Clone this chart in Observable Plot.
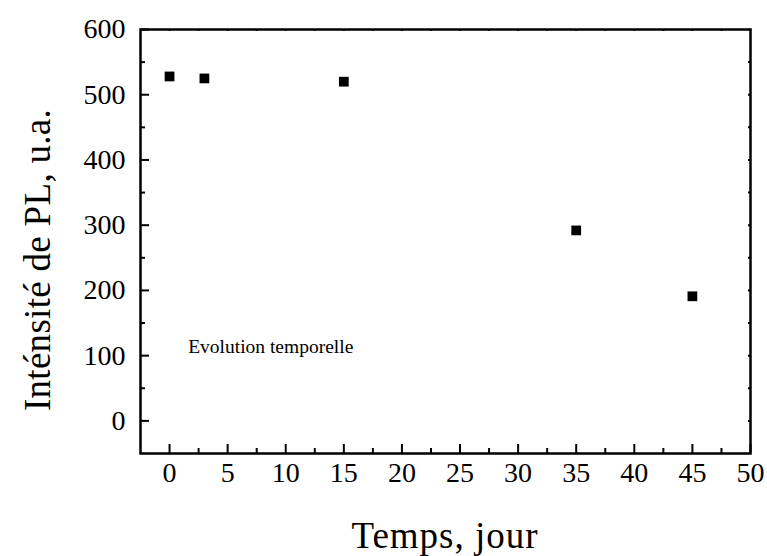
<!DOCTYPE html>
<html><head><meta charset="utf-8">
<script src="https://cdn.jsdelivr.net/npm/d3@7"></script>
<script src="https://cdn.jsdelivr.net/npm/@observablehq/plot@0.6"></script>
<style>body{margin:0;background:#fff}</style>
</head><body><div id="chart"></div>
<script>
const days = [0, 3, 15, 35, 45];
const intensity = [528, 525, 520, 292, 191];
const xTicks = [0, 5, 10, 15, 20, 25, 30, 35, 40, 45, 50];
const yTicks = [0, 100, 200, 300, 400, 500, 600];
const xMinor = [2.5, 7.5, 12.5, 17.5, 22.5, 27.5, 32.5, 37.5, 42.5, 47.5];
const yMinor = [50, 150, 250, 350, 450, 550];
const note = "Evolution temporelle";
const xLabel = "Temps, jour";
const yLabel = "Inténsité de PL, u.a.";

const data = days.map((d, i) => ({d, v: intensity[i]}));
const font = "'Liberation Serif', 'Times New Roman', serif";
const W = 767, H = 556, mL = 140, mR = 17, mT = 29, mB = 103;
const pw = W - mL - mR, ph = H - mT - mB;

const chart = Plot.plot({
  width: W, height: H,
  marginLeft: mL, marginRight: mR, marginTop: mT, marginBottom: mB,
  style: {fontFamily: font, color: "#000", background: "#fff"},
  x: {domain: [-2.5, 50]},
  y: {domain: [-50, 600]},
  marks: [
    Plot.axisX({ticks: xTicks, tickSize: 0, tickPadding: 9, tickFormat: d => String(d), label: null, fontSize: 28, fontFamily: font, letterSpacing: "1px"}),
    Plot.axisY({ticks: yTicks, tickSize: 0, tickPadding: 15, tickFormat: d => String(d), label: null, fontSize: 28, fontFamily: font, letterSpacing: "1px"}),
    // inward ticks, bottom / left
    Plot.tickX(xTicks, {x: d => d, insetTop: ph - 9, strokeWidth: 2, stroke: "#000"}),
    Plot.tickX(xMinor, {x: d => d, insetTop: ph - 5, strokeWidth: 2, stroke: "#000"}),
    Plot.tickY(yTicks, {y: d => d, insetRight: pw - 9, strokeWidth: 2, stroke: "#000"}),
    Plot.tickY(yMinor, {y: d => d, insetRight: pw - 5, strokeWidth: 2, stroke: "#000"}),
    // small ticks on top / right
    Plot.tickX(xTicks.concat(xMinor), {x: d => d, insetBottom: ph - 2, strokeWidth: 2, stroke: "#000"}),
    Plot.tickY(yTicks.concat(yMinor), {y: d => d, insetLeft: pw - 2, strokeWidth: 2, stroke: "#000"}),
    Plot.frame({strokeWidth: 2.5, stroke: "#000"}),
    Plot.dot(data, {x: "d", y: "v", symbol: "square", r: 5.5, fill: "#000", stroke: "none"}),
    Plot.text([note], {x: 1.6, y: 104, text: d => d, textAnchor: "start", lineAnchor: "bottom", fontSize: 19.5, fontFamily: font, letterSpacing: "0.4px"})
  ]
});

const svg = d3.select(chart);
svg.append("text")
  .attr("x", mL + pw / 2).attr("y", 548)
  .attr("text-anchor", "middle")
  .attr("font-family", font).attr("font-size", 37).attr("letter-spacing", "1px")
  .attr("fill", "#000")
  .text(xLabel);
svg.append("text")
  .attr("transform", "translate(50,260) rotate(-90)")
  .attr("text-anchor", "middle")
  .attr("font-family", font).attr("font-size", 37).attr("letter-spacing", "0.3px")
  .attr("fill", "#000")
  .text(yLabel);
document.getElementById("chart").appendChild(chart);
</script></body></html>
